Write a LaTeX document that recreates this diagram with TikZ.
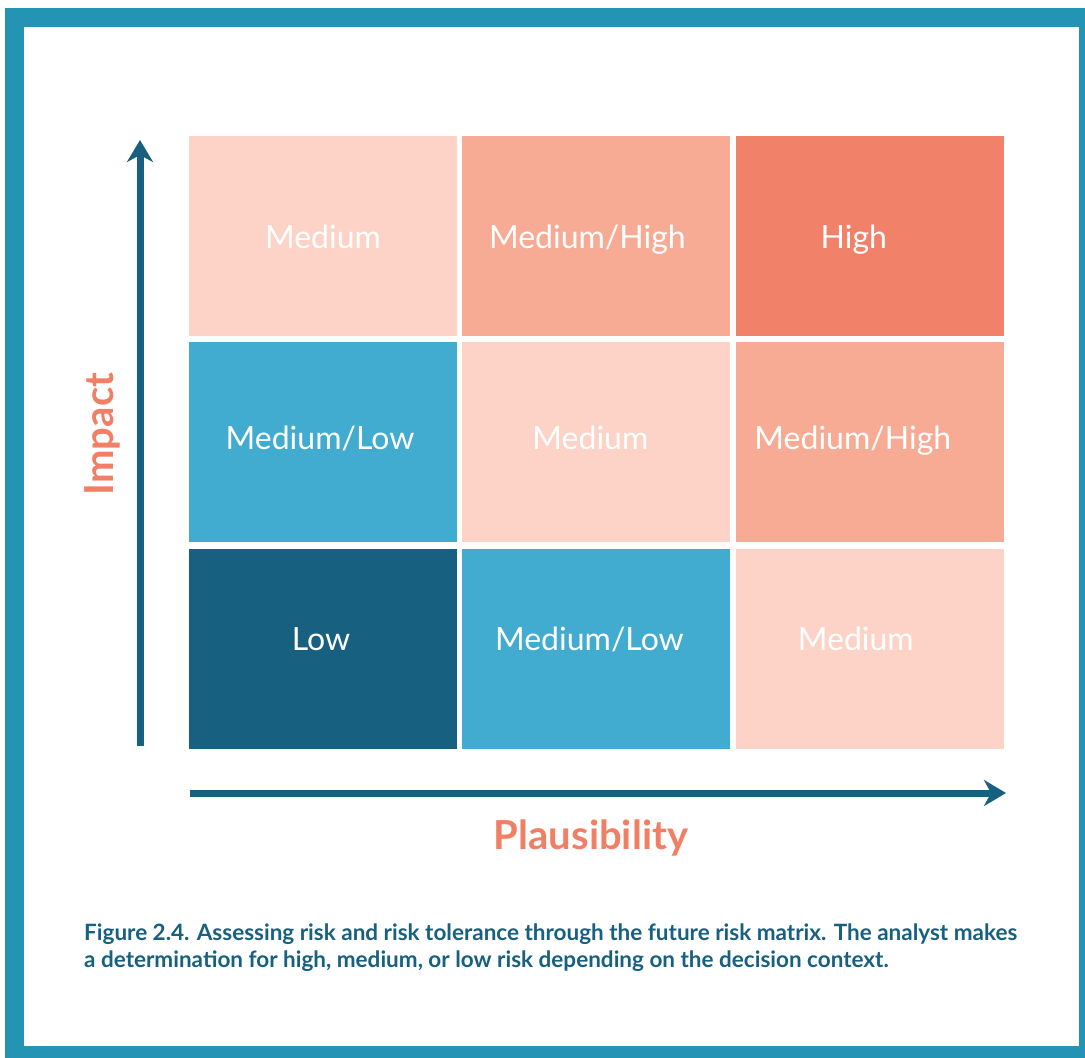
\documentclass[tikz,border=0pt]{standalone}
\usepackage{fontspec}
\setmainfont{Lato}
\usetikzlibrary{arrows.meta}
\usetikzlibrary{positioning}
\definecolor{frameblue}{HTML}{2494B5}
\definecolor{lowblue}{HTML}{17607F}
\definecolor{medlow}{HTML}{41ACCF}
\definecolor{medpink}{HTML}{FCD3C6}
\definecolor{medhigh}{HTML}{F7AB94}
\definecolor{highred}{HTML}{F28169}
\definecolor{axisred}{HTML}{F07F66}

\begin{document}
\begin{tikzpicture}[x=1pt,y=-1pt,
                    node distance=5pt,
                    cell/.style={rectangle,minimum width=268pt,minimum height=200pt,inner sep=0pt},
                    word/.style={anchor=base,text=white,font=\fontsize{32}{36}\selectfont},
                    axis/.style={line width=7pt,lowblue,
                                 -{Stealth[length=22pt,width=26pt,inset=7pt]}},
                    axlabel/.style={text=axisred,font=\fontsize{40}{46}\selectfont\bfseries}
                    ]
\useasboundingbox (0,0) rectangle (1085,1058);
% frame
\draw[frameblue,line width=19pt] (14.5,17.5) rectangle (1088.5,1055.5);

% matrix, top row
\node[cell,fill=medpink] (c11) at (323,236) {};
\node[cell,fill=medhigh] (c12) [right=of c11] {};
\node[cell,fill=highred] (c13) [right=of c12] {};
% middle row
\node[cell,fill=medlow] (c21) [below=6pt of c11] {};
\node[cell,fill=medpink] (c22) [right=of c21] {};
\node[cell,fill=medhigh] (c23) [right=of c22] {};
% bottom row
\node[cell,fill=lowblue] (c31) [below=6pt of c21] {};
\node[cell,fill=medlow] (c32) [right=of c31] {};
\node[cell,fill=medpink] (c33) [right=of c32] {};

% words
\node[word] (w11) at ([yshift=-12pt]c11) {Medium};
\node[word] (w12) at ([xshift=-9pt,yshift=-12pt]c12) {Medium/High};
\node[word] (w13) at ([xshift=-16pt,yshift=-12pt]c13) {High};
\node[word] (w21) at ([xshift=-3pt,yshift=-7pt]c21) {Medium/Low};
\node[word] (w22) at ([xshift=-6pt,yshift=-7pt]c22) {Medium};
\node[word] (w23) at ([xshift=-17pt,yshift=-7pt]c23) {Medium/High};
\node[word] (w31) at ([xshift=-2pt,yshift=-2pt]c31) {Low};
\node[word] (w32) at ([xshift=-7pt,yshift=-2pt]c32) {Medium/Low};
\node[word] (w33) at ([xshift=-14pt,yshift=-2pt]c33) {Medium};

% axes
\coordinate (ybot) at (140,746);
\coordinate (ytop) at (140,140);
\coordinate (xleft) at (190,793);
\coordinate (xright) at (1006,793);
\draw[axis] (ybot) -- (ytop);
\draw[axis] (xleft) -- (xright);

\node[axlabel,rotate=90] (impact) at (102,434) {Impact};
\node[axlabel] (plaus) at (591,838) {Plausibility};

% caption
\node[anchor=north west,text=lowblue,align=left,inner sep=0pt,
      font=\fontsize{22.5}{27}\selectfont\bfseries] (caption) at (84,924)
  {Figure 2.4. Assessing risk and risk tolerance through the future risk matrix. The analyst makes\\
   a determination for high, medium, or low risk depending on the decision context.};
\end{tikzpicture}
\end{document}
